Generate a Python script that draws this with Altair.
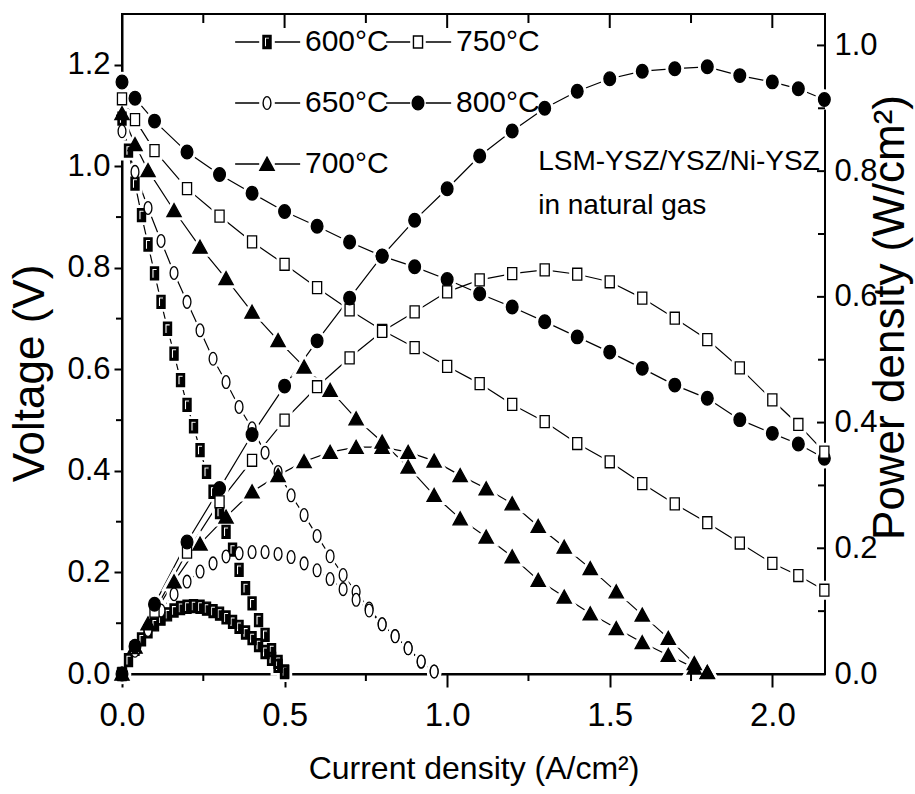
import altair as alt
import pandas as pd

FONT = "Liberation Sans, Arial, sans-serif"

SERIES = ["600°C", "650°C", "700°C", "750°C", "800°C"]

# ---- data ----
I_600 = [0, 0.02, 0.04, 0.06, 0.08, 0.10, 0.12, 0.14, 0.16, 0.18, 0.20, 0.22, 0.24,
         0.26, 0.28, 0.30, 0.32, 0.34, 0.36, 0.38, 0.40, 0.42, 0.44, 0.46, 0.48, 0.50]
V_600 = [1.094, 1.031, 0.966, 0.904, 0.846, 0.789, 0.733, 0.680, 0.631, 0.579, 0.530, 0.488, 0.441,
         0.398, 0.359, 0.319, 0.280, 0.245, 0.205, 0.169, 0.139, 0.106, 0.077, 0.047, 0.024, 0.005]
P_600 = [0, 0.022, 0.040, 0.055, 0.068, 0.079, 0.088, 0.095, 0.101, 0.105, 0.107, 0.108, 0.107,
         0.104, 0.100, 0.096, 0.090, 0.083, 0.075, 0.066, 0.057, 0.046, 0.035, 0.024, 0.013, 0.003]

I_650 = [0, 0.04, 0.08, 0.12, 0.16, 0.20, 0.24, 0.28, 0.32, 0.36, 0.40, 0.44, 0.48,
         0.52, 0.56, 0.60, 0.64, 0.68, 0.72, 0.76, 0.80, 0.84, 0.88, 0.92, 0.96]
V_650 = [1.069, 0.989, 0.918, 0.853, 0.790, 0.733, 0.677, 0.621, 0.575, 0.526, 0.484, 0.436, 0.398,
         0.352, 0.313, 0.272, 0.232, 0.195, 0.162, 0.129, 0.098, 0.075, 0.051, 0.024, 0.005]
P_650 = [0, 0.037, 0.070, 0.101, 0.127, 0.147, 0.163, 0.176, 0.187, 0.192, 0.194, 0.194, 0.191,
         0.186, 0.176, 0.165, 0.151, 0.135, 0.118, 0.101, 0.079, 0.060, 0.041, 0.020, 0.004]

I_700 = [0, 0.04, 0.08, 0.16, 0.24, 0.32, 0.40, 0.48, 0.56, 0.64, 0.72, 0.80, 0.88,
         0.96, 1.04, 1.12, 1.20, 1.28, 1.36, 1.44, 1.52, 1.60, 1.68, 1.76, 1.80]
V_700 = [1.104, 1.043, 0.992, 0.913, 0.841, 0.779, 0.713, 0.657, 0.605, 0.559, 0.503, 0.457, 0.408,
         0.352, 0.306, 0.270, 0.231, 0.185, 0.152, 0.119, 0.090, 0.062, 0.037, 0.012, 0.003]
P_700 = [0, 0.043, 0.080, 0.147, 0.207, 0.250, 0.290, 0.316, 0.338, 0.353, 0.361, 0.361, 0.353,
         0.339, 0.316, 0.295, 0.271, 0.235, 0.202, 0.168, 0.131, 0.094, 0.057, 0.017, 0.003]

I_750 = [0, 0.04, 0.10, 0.20, 0.30, 0.40, 0.50, 0.60, 0.70, 0.80, 0.90, 1.00, 1.10,
         1.20, 1.30, 1.40, 1.50, 1.60, 1.70, 1.80, 1.90, 2.00, 2.08, 2.16]
V_750 = [1.133, 1.092, 1.031, 0.956, 0.902, 0.851, 0.807, 0.761, 0.717, 0.677, 0.643, 0.606, 0.572,
         0.531, 0.497, 0.454, 0.418, 0.375, 0.335, 0.298, 0.258, 0.218, 0.194, 0.165]
P_750 = [0, 0.042, 0.100, 0.194, 0.274, 0.340, 0.404, 0.457, 0.503, 0.545, 0.576, 0.608, 0.627,
         0.637, 0.643, 0.636, 0.624, 0.598, 0.566, 0.532, 0.487, 0.436, 0.397, 0.353]

I_800 = [0, 0.04, 0.10, 0.20, 0.30, 0.40, 0.50, 0.60, 0.70, 0.80, 0.90, 1.00, 1.10,
         1.20, 1.30, 1.40, 1.50, 1.60, 1.70, 1.80, 1.90, 2.00, 2.08, 2.16]
V_800 = [1.166, 1.134, 1.089, 1.028, 0.984, 0.947, 0.911, 0.882, 0.851, 0.823, 0.802, 0.777, 0.749,
         0.723, 0.694, 0.664, 0.634, 0.602, 0.569, 0.543, 0.501, 0.474, 0.453, 0.425]
P_800 = [0, 0.044, 0.111, 0.210, 0.295, 0.381, 0.458, 0.530, 0.598, 0.665, 0.722, 0.772, 0.824,
         0.864, 0.900, 0.927, 0.947, 0.959, 0.963, 0.966, 0.952, 0.942, 0.931, 0.914]

X_MAJOR = [0.0, 0.5, 1.0, 1.5, 2.0]
X_MINOR = [0.25, 0.75, 1.25, 1.75]
V_MAJOR = [0.0, 0.2, 0.4, 0.6, 0.8, 1.0, 1.2]
V_MINOR = [0.1, 0.3, 0.5, 0.7, 0.9, 1.1]
P_MAJOR = [0.0, 0.2, 0.4, 0.6, 0.8, 1.0]
P_MINOR = [0.1, 0.3, 0.5, 0.7, 0.9]

NOTE = "LSM-YSZ/YSZ/Ni-YSZ\nin natural gas"

rows = []
for name, I, V, P in [("600°C", I_600, V_600, P_600), ("650°C", I_650, V_650, P_650),
                      ("700°C", I_700, V_700, P_700), ("750°C", I_750, V_750, P_750),
                      ("800°C", I_800, V_800, P_800)]:
    for i, v, p in zip(I, V, P):
        rows.append({"series": name, "I": i, "V": v, "P": p})
df = pd.DataFrame(rows)

# ---- styling ----
W, H = 703, 660
SIZE = 169


def ell(rx, ry):
    k = 0.5523
    return (f"M0,{-ry}C{k*rx:.3f},{-ry} {rx},{-k*ry:.3f} {rx},0"
            f"C{rx},{k*ry:.3f} {k*rx:.3f},{ry} 0,{ry}"
            f"C{-k*rx:.3f},{ry} {-rx},{k*ry:.3f} {-rx},0"
            f"C{-rx},{-k*ry:.3f} {-k*rx:.3f},{-ry} 0,{-ry}Z")


MARKER = {
    "600°C": "M-0.62,-1H0.62V1H-0.62ZM-0.42,-0.78V0.75H-0.05V-0.42H0.42V-0.78Z",
    "650°C": ell(0.6, 0.98),
    "700°C": "M0,-1.05L1.1,0.95H-1.1Z",
    "750°C": "M-0.7,-0.92H0.7V0.92H-0.7Z",
    "800°C": ell(0.9, 1.05),
}
LEGEND_SYMBOL = {k: "M-4.9,0H-1.2M1.2,0H5.1" + v for k, v in MARKER.items()}
FILL = {"600°C": "black", "650°C": "white", "700°C": "black", "750°C": "white", "800°C": "black"}

x_scale = alt.Scale(domain=[0, 2.162], nice=False, zero=False)
v_scale = alt.Scale(domain=[0, 1.3], nice=False, zero=False)
p_scale = alt.Scale(domain=[0, 1.05], nice=False, zero=False)

x_axis = alt.Axis(values=X_MAJOR, format=".1f", title="Current density (A/cm²)",
                  labelFont=FONT, labelFontSize=33, labelColor="black", labelPadding=12,
                  labelFlush=False, labelOverlap=False,
                  tickSize=13, tickWidth=2, tickColor="black",
                  domainWidth=2, domainColor="black", grid=False,
                  titleFont=FONT, titleFontSize=32, titleFontWeight="normal", titleColor="black",
                  titleBaseline="alphabetic", titleY=104)
v_axis = alt.Axis(orient="left", values=V_MAJOR, format=".1f", title="Voltage (V)",
                  labelFont=FONT, labelFontSize=31, labelColor="black", labelPadding=4,
                  labelFlush=False, labelOverlap=False,
                  tickSize=8, tickWidth=2, tickColor="black",
                  domainWidth=2, domainColor="black", grid=False,
                  titleFont=FONT, titleFontSize=44, titleFontWeight="normal", titleColor="black",
                  titleAngle=270, titleAlign="center", titleBaseline="middle",
                  titleX=-92, titleY=359)
p_axis = alt.Axis(orient="right", values=P_MAJOR, format=".1f", title="Power density (W/cm²)",
                  labelFont=FONT, labelFontSize=31, labelColor="black", labelPadding=9,
                  labelFlush=False, labelOverlap=False,
                  ticks=False, tickSize=0, domain=False, grid=False,
                  titleFont=FONT, titleFontSize=44, titleFontWeight="normal", titleColor="black",
                  titleAngle=270, titleAlign="center", titleBaseline="middle",
                  titleX=65, titleY=303)


def X(field="I"):
    return alt.X(f"{field}:Q", scale=x_scale, axis=x_axis)


shape_scale = alt.Scale(domain=SERIES, range=[MARKER[s] for s in SERIES])
fill_scale = alt.Scale(domain=SERIES, range=[FILL[s] for s in SERIES])

base = alt.Chart(df)


def line_layer(field, scale, axis):
    return base.mark_line(color="black", strokeWidth=1.2).encode(
        x=X(), y=alt.Y(f"{field}:Q", scale=scale, axis=axis), detail="series:N")


def halo_layer(field, scale):
    return base.mark_point(filled=True, fill="white", stroke="white", strokeWidth=7,
                           opacity=1, size=SIZE).encode(
        x=X(), y=alt.Y(f"{field}:Q", scale=scale, axis=None),
        shape=alt.Shape("series:N", scale=shape_scale, legend=None))


def point_layer(field, scale):
    return base.mark_point(filled=True, stroke="black", strokeWidth=1.3,
                           opacity=1, size=SIZE).encode(
        x=X(), y=alt.Y(f"{field}:Q", scale=scale, axis=None),
        shape=alt.Shape("series:N", scale=shape_scale, legend=None),
        fill=alt.Fill("series:N", scale=fill_scale, legend=None))


def xticks(values, y0, y1):
    return alt.Chart(pd.DataFrame({"t": values})).mark_rule(color="black", strokeWidth=2).encode(
        x=X("t"), y=alt.value(y0), y2=alt.value(y1))


def yticks(values, scale, x0, x1):
    return alt.Chart(pd.DataFrame({"t": values})).mark_rule(color="black", strokeWidth=2).encode(
        y=alt.Y("t:Q", scale=scale, axis=None), x=alt.value(x0), x2=alt.value(x1))


legend = alt.Legend(orient="none", legendX=130, legendY=13, columns=2, title=None,
                    labelFont=FONT, labelFontSize=30, labelColor="black", labelLimit=0,
                    labelOffset=23, symbolSize=SIZE, symbolStrokeWidth=1.4,
                    symbolStrokeColor="black", symbolOpacity=1,
                    rowPadding=31, columnPadding=-6, padding=0)

leg_layer = base.transform_filter("datum.I < 0").mark_point(
    filled=True, stroke="black", strokeWidth=1.4, opacity=1, size=SIZE).encode(
    shape=alt.Shape("series:N", scale=alt.Scale(domain=SERIES,
                                                range=[LEGEND_SYMBOL[s] for s in SERIES]),
                    legend=legend),
    fill=alt.Fill("series:N", scale=alt.Scale(domain=SERIES,
                                              range=[FILL[s] for s in SERIES]),
                  legend=legend),
    stroke=alt.Stroke("series:N", scale=alt.Scale(domain=SERIES, range=["black"] * 5),
                      legend=legend))

note = alt.Chart(pd.DataFrame({"a": [0]})).mark_text(
    align="left", baseline="alphabetic", font=FONT, fontSize=28, color="black",
    lineBreak="\n", lineHeight=44).encode(
    x=alt.XDatum(1.28, scale=x_scale, axis=x_axis),
    y=alt.YDatum(0.993, scale=v_scale, axis=None),
    text=alt.value(NOTE))

chart = alt.layer(
    line_layer("V", v_scale, v_axis),
    line_layer("P", p_scale, p_axis),
    halo_layer("V", v_scale),
    halo_layer("P", p_scale),
    point_layer("V", v_scale),
    point_layer("P", p_scale),
    xticks(X_MINOR, H, H + 7),
    xticks(X_MAJOR[1:], 0, 14),
    xticks(X_MINOR, 0, 9),
    yticks(V_MINOR, v_scale, 0, -6),
    yticks(P_MAJOR[1:], p_scale, W, W - 8),
    yticks(P_MINOR, p_scale, W, W - 7),
    note,
    leg_layer,
).resolve_scale(
    y="independent", shape="independent", fill="independent", stroke="independent"
).properties(
    width=W, height=H,
    autosize=alt.AutoSizeParams(type="none"),
    padding={"left": 122, "top": 14, "right": 90, "bottom": 120},
    background="white",
).configure_view(stroke="black", strokeWidth=2)

chart.save("out.html", embed_options={"renderer": "svg", "actions": False})
